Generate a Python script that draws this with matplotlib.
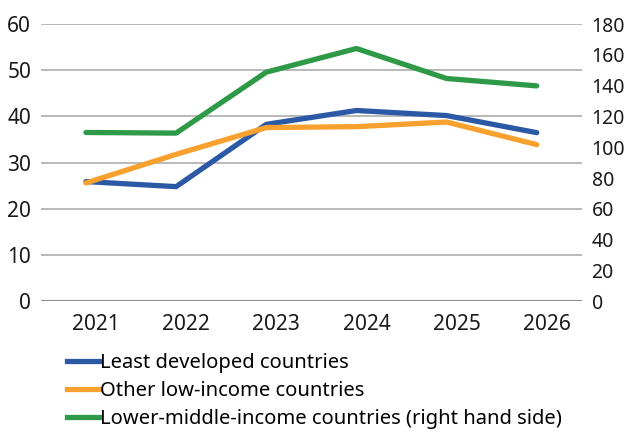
import matplotlib.pyplot as plt
import matplotlib.transforms as mtransforms
from matplotlib.lines import Line2D

plt.rcParams['font.family'] = ['Noto Sans', 'DejaVu Sans']

years = ['2021', '2022', '2023', '2024', '2025', '2026']
least_developed = [25.9, 24.8, 38.3, 41.3, 40.2, 36.5]
other_low_income = [25.6, 31.8, 37.6, 37.8, 38.8, 33.9]
lower_middle = [109.6, 109.2, 148.8, 164.2, 144.7, 139.9]  # right hand side

blue = '#2b59a6'
orange = '#f9a12e'
green = '#2e9a47'

fig = plt.figure(figsize=(6.29, 4.32), dpi=100)
ax = fig.add_axes([0.065, 0.303, 0.860, 0.641])
ax2 = ax.twinx()

x = range(len(years))
ax.plot(x, least_developed, color=blue, lw=3.8, solid_capstyle='round', zorder=3)
ax.plot(x, other_low_income, color=orange, lw=3.8, solid_capstyle='round', zorder=3)
ax2.plot(x, lower_middle, color=green, lw=3.8, solid_capstyle='round', zorder=3)

ax.set_xlim(-0.5, 5.5)
ax.set_ylim(0, 60)
ax2.set_ylim(0, 180)
ax.set_yticks(range(0, 61, 10))
ax2.set_yticks(range(0, 181, 20))
ax.set_xticks(list(x))
ax.set_xticklabels(years)

ax.grid(axis='y', color='#a6a6a6', lw=1.1)
ax.axhline(0, color='#8c8c8c', lw=2.2, zorder=2)
for a in (ax, ax2):
    for s in a.spines.values():
        s.set_visible(False)
    a.tick_params(length=0, labelsize=15, colors='#1a1a1a')
ax.tick_params(axis='y', pad=7)
ax2.tick_params(axis='y', pad=7, labelsize=14)
ax.tick_params(axis='x', pad=9)
ax.set_axisbelow(True)

# year labels sit a little right of the data points in the original
shift = mtransforms.ScaledTranslation(0.10, 0, fig.dpi_scale_trans)
for lab in ax.get_xticklabels():
    lab.set_transform(lab.get_transform() + shift)

handles = [Line2D([], [], color=c, lw=3.8) for c in (blue, orange, green)]
labels = ['Least developed countries', 'Other low-income countries',
          'Lower-middle-income countries (right hand side)']
fig.legend(handles, labels, loc='upper left', bbox_to_anchor=(0.106, 0.182),
           frameon=False, fontsize=14.5, handlelength=1.6, handletextpad=0.05,
           labelspacing=0.38, borderpad=0, borderaxespad=0)

fig.savefig('out.png', dpi=100)
